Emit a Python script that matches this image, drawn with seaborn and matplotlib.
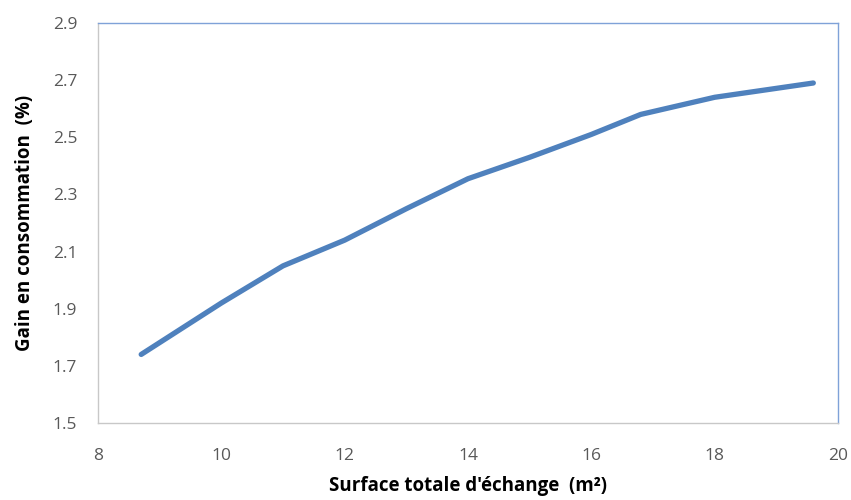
import pandas as pd
import seaborn as sns
import matplotlib.pyplot as plt

# values
surface = [8.7, 10.0, 11.0, 12.0, 13.0, 14.0, 15.0, 16.0, 16.8, 18.0, 19.6]
gain = [1.74, 1.92, 2.05, 2.14, 2.25, 2.355, 2.43, 2.51, 2.58, 2.64, 2.69]

x_ticks = [8, 10, 12, 14, 16, 18, 20]
y_ticks = [1.5, 1.7, 1.9, 2.1, 2.3, 2.5, 2.7, 2.9]

df = pd.DataFrame({'surface': surface, 'gain': gain})

sns.set_style("white")
plt.rcParams['font.family'] = ['Open Sans', 'DejaVu Sans']

fig = plt.figure(figsize=(8.51, 5), dpi=100)
ax = fig.add_axes([0.1152, 0.154, 0.8695, 0.8])

sns.lineplot(data=df, x='surface', y='gain', color='#4F81BD', linewidth=3.8,
             solid_capstyle='round', solid_joinstyle='round', ax=ax)

ax.set_xlim(8, 20)
ax.set_ylim(1.5, 2.9)
ax.set_xticks(x_ticks)
ax.set_yticks(y_ticks)
ax.set_xticklabels([str(t) for t in x_ticks])
ax.set_yticklabels([f"{t:.1f}" for t in y_ticks])
ax.tick_params(axis='both', length=0, labelsize=12.5, colors='#595959')
ax.tick_params(axis='x', pad=18)
ax.tick_params(axis='y', pad=15)

# Excel style plot area border
ax.spines['left'].set_color('#C8C8C8')
ax.spines['bottom'].set_color('#C8C8C8')
ax.spines['top'].set_color('#7FA2D8')
ax.spines['right'].set_color('#7FA2D8')
for s in ax.spines.values():
    s.set_linewidth(1.0)

ax.set_xlabel("Surface totale d'échange  (m²)", fontsize=13.5, fontweight='bold',
              color='black', labelpad=9)
ax.set_ylabel("Gain en consommation  (%)", fontsize=13.5, fontweight='bold',
              color='black', labelpad=13)

plt.savefig('out.png', dpi=100)
